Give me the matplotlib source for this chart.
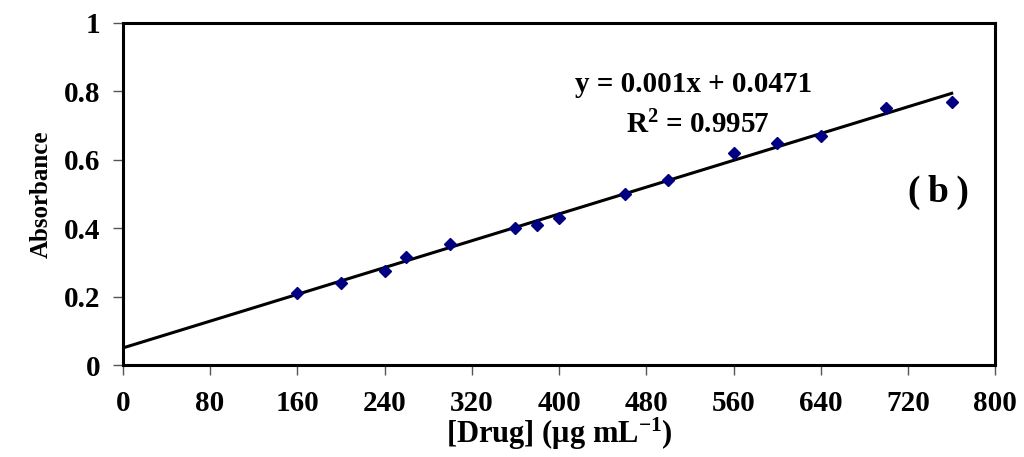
import numpy as np
import matplotlib
matplotlib.use("Agg")
from matplotlib import pyplot as plt

# concentration of drug (ug/mL) and measured absorbance
conc = [160, 200, 240, 260, 300, 360, 380, 400, 460, 500, 560, 600, 640, 700, 760]
absorb = [0.21, 0.24, 0.275, 0.315, 0.355, 0.40, 0.41, 0.43, 0.50, 0.54,
          0.62, 0.65, 0.67, 0.75, 0.77]
x_ticks = [0, 80, 160, 240, 320, 400, 480, 560, 640, 720, 800]
y_ticks = [0, 0.2, 0.4, 0.6, 0.8, 1]
y_labels = ['0', '0.2', '0.4', '0.6', '0.8', '1']

plt.rcParams['font.family'] = ['Liberation Serif', 'DejaVu Serif']
plt.rcParams['font.weight'] = 'bold'
plt.rcParams['mathtext.fontset'] = 'custom'
plt.rcParams['mathtext.rm'] = 'Liberation Serif:bold'
plt.rcParams['mathtext.it'] = 'Liberation Serif:bold'
plt.rcParams['mathtext.bf'] = 'Liberation Serif:bold'

fig = plt.figure(figsize=(10.24, 4.57), dpi=100)
ax = fig.add_axes([0.120, 0.201, 0.852, 0.749])

slope, icpt = np.polyfit(conc, absorb, 1)
xl = np.array([0, max(conc)])
ax.plot(xl, slope * xl + icpt, color='black', lw=2.2, zorder=2)
ax.plot(conc, absorb, 'D', color='#000080', ms=6.5, zorder=3)

ax.set_xlim(0, 800)
ax.set_ylim(0, 1)
ax.set_xticks(x_ticks)
ax.set_yticks(y_ticks)
ax.set_yticklabels(y_labels)
ax.tick_params(axis='both', labelsize=21)
ax.tick_params(axis='x', direction='out', length=7, width=1, color='#555555', pad=11)
ax.tick_params(axis='y', direction='out', length=7, width=1, color='#555555', pad=9)
for s in ax.spines.values():
    s.set_linewidth(2.2)

ax.set_xlabel(r'[Drug] ($\mathbf{\mu}$g mL$^{\mathbf{-1}}$)', fontsize=22,
              fontweight='bold', labelpad=-1)
ax.set_ylabel('Absorbance', fontsize=18, fontweight='bold', labelpad=8)

ax.text(523, 0.82, 'y = 0.001x + 0.0471', fontsize=21, fontweight='bold',
        ha='center', va='center')
ax.text(527, 0.70, r'R$^{\mathbf{2}}$ = 0.9957', fontsize=21, fontweight='bold',
        ha='center', va='center')
ax.text(748, 0.505, '(\u2009b\u2009)', fontsize=27, fontweight='bold',
        ha='center', va='center')

fig.savefig('out.png', dpi=100)
